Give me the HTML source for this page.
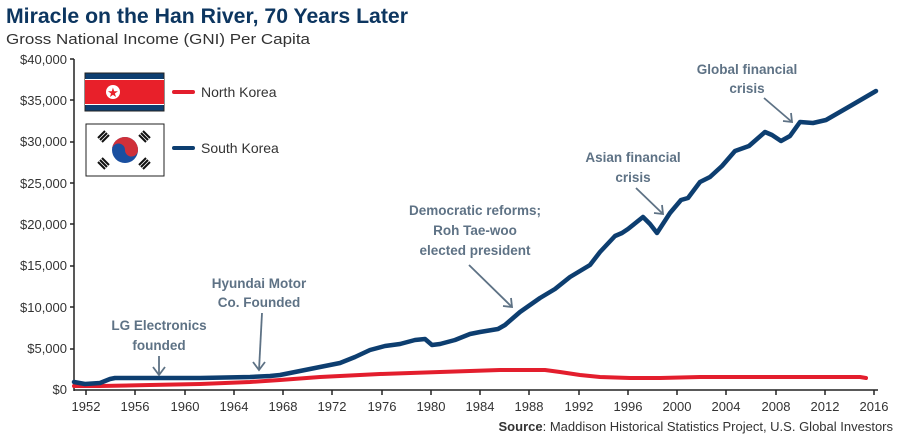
<!DOCTYPE html>
<html><head><meta charset="utf-8"><style>
body{margin:0;background:#fff;}
svg{display:block;font-family:"Liberation Sans Narrow","Liberation Sans",sans-serif;}
</style></head><body>
<svg width="900" height="440" viewBox="0 0 900 440">
<text x="6" y="23" font-size="21" font-weight="bold" fill="#0d3660" textLength="402" lengthAdjust="spacingAndGlyphs">Miracle on the Han River, 70 Years Later</text>
<text x="6" y="44" font-size="15" fill="#333" textLength="304" lengthAdjust="spacingAndGlyphs">Gross National Income (GNI) Per Capita</text>
<g font-size="13" fill="#333" text-anchor="end">
<text x="67" y="64">$40,000</text><text x="67" y="105">$35,000</text><text x="67" y="146">$30,000</text>
<text x="67" y="188">$25,000</text><text x="67" y="229">$20,000</text><text x="67" y="270">$15,000</text>
<text x="67" y="312">$10,000</text><text x="67" y="353">$5,000</text><text x="67" y="394">$0</text>
</g>
<g stroke="#222" stroke-width="1.5">
<line x1="74" y1="59" x2="74" y2="391"/><line x1="74" y1="390" x2="878" y2="390"/>
<line x1="70" y1="59" x2="74" y2="59"/><line x1="70" y1="100" x2="74" y2="100"/><line x1="70" y1="142" x2="74" y2="142"/>
<line x1="70" y1="183" x2="74" y2="183"/><line x1="70" y1="224" x2="74" y2="224"/><line x1="70" y1="266" x2="74" y2="266"/>
<line x1="70" y1="307" x2="74" y2="307"/><line x1="70" y1="349" x2="74" y2="349"/>
<line x1="86" y1="390" x2="86" y2="395"/><line x1="135" y1="390" x2="135" y2="395"/><line x1="185" y1="390" x2="185" y2="395"/>
<line x1="234" y1="390" x2="234" y2="395"/><line x1="283" y1="390" x2="283" y2="395"/><line x1="332" y1="390" x2="332" y2="395"/>
<line x1="382" y1="390" x2="382" y2="395"/><line x1="431" y1="390" x2="431" y2="395"/><line x1="480" y1="390" x2="480" y2="395"/>
<line x1="529" y1="390" x2="529" y2="395"/><line x1="579" y1="390" x2="579" y2="395"/><line x1="628" y1="390" x2="628" y2="395"/>
<line x1="677" y1="390" x2="677" y2="395"/><line x1="726" y1="390" x2="726" y2="395"/><line x1="776" y1="390" x2="776" y2="395"/>
<line x1="825" y1="390" x2="825" y2="395"/><line x1="874" y1="390" x2="874" y2="395"/>
</g>
<g font-size="13" fill="#333" text-anchor="middle">
<text x="86" y="411">1952</text><text x="135" y="411">1956</text><text x="185" y="411">1960</text><text x="234" y="411">1964</text>
<text x="283" y="411">1968</text><text x="332" y="411">1972</text><text x="382" y="411">1976</text><text x="431" y="411">1980</text>
<text x="480" y="411">1984</text><text x="529" y="411">1988</text><text x="579" y="411">1992</text><text x="628" y="411">1996</text>
<text x="677" y="411">2000</text><text x="726" y="411">2004</text><text x="776" y="411">2008</text><text x="825" y="411">2012</text>
<text x="874" y="411">2016</text>
</g>
<text x="893" y="431" font-size="13" fill="#333" text-anchor="end"><tspan font-weight="bold">Source</tspan>: Maddison Historical Statistics Project, U.S. Global Investors</text>
<!-- series -->
<polyline fill="none" stroke="#e31e2d" stroke-width="4" stroke-linejoin="round" stroke-linecap="round" points="74,386 100,386 150,385 200,384 250,382 280,380 320,377 380,374 440,372 500,370 545,370 560,372 580,375 600,377 630,378 660,378 700,377 760,377 800,377 860,377 866,378"/>
<polyline fill="none" stroke="#0d3e70" stroke-width="4.5" stroke-linejoin="round" stroke-linecap="round" points="74,382 85,384 100,383 110,379 115,378 150,378 200,378 250,377 270,376 280,375 300,371 315,368 340,363 355,357 370,350 385,346 400,344 415,340 425,339 432,345 440,344 455,340 470,334 480,332 498,329 505,325 520,312 540,298 555,289 570,277 590,265 600,252 615,236 622,233 628,229 643,217 650,224 657,233 670,213 681,200 688,198 700,182 710,177 722,166 735,151 749,146 765,132 772,135 781,141 790,136 800,122 813,123 826,120 852,105 876,91"/>
<!-- legend -->
<rect x="85" y="73" width="79" height="38" fill="#0d3e70" stroke="#222" stroke-width="1"/>
<rect x="85" y="79" width="79" height="26" fill="#fff"/>
<rect x="85" y="80" width="79" height="24" fill="#e8202a"/>
<circle cx="113" cy="92" r="7" fill="#fff"/>
<text x="113" y="97" font-size="13" fill="#e8202a" text-anchor="middle">★</text>
<rect x="86" y="124" width="78" height="52" fill="#fff" stroke="#222" stroke-width="1"/>
<circle cx="125" cy="150" r="13" fill="#1a4fa0"/>
<path d="M112,150 A13,13 0 0 1 138,150 A6.5,6.5 0 0 1 125,150 A6.5,6.5 0 0 0 112,150Z" fill="#d0303a"/>
<g stroke="#111" stroke-width="2">
<line x1="98" y1="138" x2="105" y2="131"/><line x1="100" y1="140" x2="107" y2="133"/><line x1="102" y1="142" x2="109" y2="135"/>
<line x1="143" y1="131" x2="150" y2="138"/><line x1="141" y1="133" x2="148" y2="140"/><line x1="139" y1="135" x2="146" y2="142"/>
<line x1="98" y1="162" x2="105" y2="169"/><line x1="100" y1="160" x2="107" y2="167"/><line x1="102" y1="158" x2="109" y2="165"/>
<line x1="143" y1="169" x2="150" y2="162"/><line x1="141" y1="167" x2="148" y2="160"/><line x1="139" y1="165" x2="146" y2="158"/>
</g>
<line x1="174" y1="92" x2="193" y2="92" stroke="#e31e2d" stroke-width="4" stroke-linecap="round"/>
<line x1="174" y1="148" x2="193" y2="148" stroke="#0d3e70" stroke-width="4" stroke-linecap="round"/>
<text x="201" y="97" font-size="14" fill="#333">North Korea</text>
<text x="201" y="153" font-size="14" fill="#333">South Korea</text>
<!-- annotations -->
<g font-size="13.5" font-weight="bold" fill="#5e7285" text-anchor="middle">
<text x="159" y="330">LG Electronics</text><text x="159" y="350">founded</text>
<text x="259" y="288">Hyundai Motor</text><text x="259" y="307">Co. Founded</text>
<text x="475" y="215">Democratic reforms;</text><text x="475" y="235">Roh Tae-woo</text><text x="475" y="255">elected president</text>
<text x="633" y="162">Asian financial</text><text x="633" y="182">crisis</text>
<text x="747" y="74">Global financial</text><text x="747" y="93">crisis</text>
</g>
<g stroke="#5e7285" stroke-width="1.8" fill="none">
<line x1="159" y1="356" x2="159" y2="375"/><polyline points="153,367 159,375 165,367"/>
<line x1="262" y1="313" x2="259" y2="370"/><polyline points="253,362 259,370 265,362"/>
<line x1="469" y1="265" x2="512" y2="307"/><polyline points="503,306 512,307 511,298"/>
<line x1="636" y1="188" x2="663" y2="214"/><polyline points="654,213 663,214 662,205"/>
<line x1="764" y1="98" x2="792" y2="122"/><polyline points="783,121 792,122 791,113"/>
</g>
</svg>
</body></html>
